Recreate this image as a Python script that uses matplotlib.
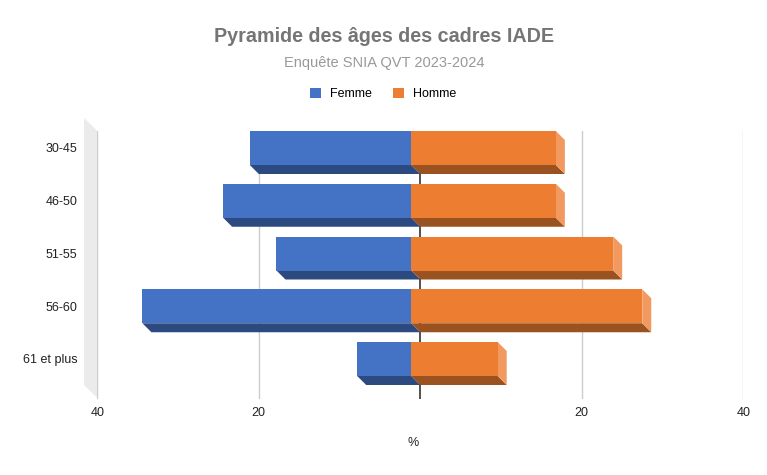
import matplotlib.pyplot as plt
from matplotlib.patches import Polygon, Patch

# ---- données
categories = ['30-45', '46-50', '51-55', '56-60', '61 et plus']
femme = [20.0, 23.3, 16.7, 33.3, 6.7]
homme = [17.9, 17.9, 25.0, 28.6, 10.7]
xticks = [-40, -20, 20, 40]
xtick_labels = ['40', '20', '20', '40']

W, H = 767, 475
plt.rcParams['font.family'] = ['Liberation Sans', 'DejaVu Sans']

fig = plt.figure(figsize=(W / 100, H / 100), dpi=100)
# zone de tracé en pixels (gauche, haut, droite, bas)
px_l, px_t, px_r, px_b = 97.3, 131, 743.3, 399
ax = fig.add_axes([px_l / W, (H - px_b) / H, (px_r - px_l) / W, (px_b - px_t) / H])

pitch = 52.75            # px entre deux barres
x_min, x_max = -40, 40
y_top = (px_t - 157) / pitch
y_bot = (px_b - 157) / pitch
ax.set_xlim(x_min, x_max)
ax.set_ylim(y_bot, y_top)

# effet 3D : décalage de 9 px en haut à gauche pour la face avant
dx = 9 * (x_max - x_min) / (px_r - px_l)
dy = 9 / pitch
h = 34 / pitch

bleu, bleu_f = '#4472C4', '#2D4A80'
orange, orange_f, orange_c = '#ED7D31', '#9A5220', '#F1995E'

ypos = list(range(len(categories)))
for i in ypos:
    f, m = femme[i], homme[i]
    yb = i + h / 2
    # faces du dessous
    ax.add_patch(Polygon([(-f - dx, yb - dy), (-dx, yb - dy), (0, yb), (-f, yb)],
                         closed=True, facecolor=bleu_f, edgecolor='none', zorder=3))
    ax.add_patch(Polygon([(-dx, yb - dy), (m - dx, yb - dy), (m, yb), (0, yb)],
                         closed=True, facecolor=orange_f, edgecolor='none', zorder=3))
    # face de côté (homme)
    ax.add_patch(Polygon([(m - dx, i - h / 2 - dy), (m, i - h / 2), (m, yb), (m - dx, yb - dy)],
                         closed=True, facecolor=orange_c, edgecolor='none', zorder=3))

front_y = [i - dy for i in ypos]
ax.barh(front_y, [-v for v in femme], left=-dx, height=h, color=bleu, zorder=4)
ax.barh(front_y, homme, left=-dx, height=h, color=orange, zorder=4)

# grille et ligne zéro
for xv in xticks:
    ax.axvline(xv, color='#cccccc', lw=1, zorder=1)
ax.axvline(0, color='#333333', lw=1.2, zorder=2)

ax.set_xticks(xticks)
ax.set_xticklabels(xtick_labels)
ax.set_yticks(front_y)
ax.set_yticklabels(categories)
ax.tick_params(axis='x', length=0, pad=6, labelsize=9, labelcolor='#222222')
ax.tick_params(axis='y', length=0, pad=14.5, labelsize=9, labelcolor='#222222')
for s in ax.spines.values():
    s.set_visible(False)
ax.patch.set_alpha(0)

# mur gauche (effet 3D)
wall = [(84, 118), (97.3, 131), (97.3, 398), (84, 385)]
fig.add_artist(Polygon([(x / W, (H - y) / H) for x, y in wall], closed=True,
                       transform=fig.transFigure, facecolor='#ebebeb', edgecolor='none', zorder=0))

fig.text(384 / W, 1 - 36 / H, 'Pyramide des âges des cadres IADE', ha='center', va='center',
         fontsize=14.2, fontweight='bold', color='#757575')
fig.text(384 / W, 1 - 63 / H, 'Enquête SNIA QVT 2023-2024', ha='center', va='center',
         fontsize=10.5, color='#999999')
fig.text(413 / W, 1 - 443 / H, '%', ha='center', va='center', fontsize=9, color='#222222')

handles = [Patch(facecolor=bleu, label='Femme'), Patch(facecolor=orange, label='Homme')]
fig.legend(handles=handles, loc='center', bbox_to_anchor=(383 / W, 1 - 94 / H), ncol=2,
           frameon=False, fontsize=9, handlelength=0.9, handleheight=0.9,
           handletextpad=0.7, columnspacing=1.7)

fig.savefig('out.png', dpi=100)
